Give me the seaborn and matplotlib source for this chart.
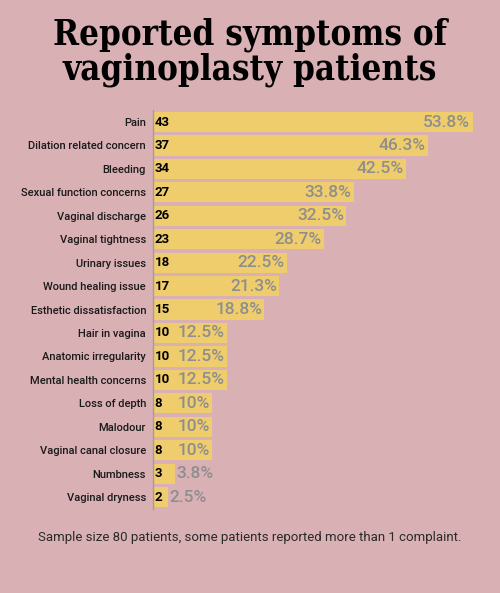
import matplotlib
matplotlib.use("Agg")
import matplotlib.pyplot as plt
import seaborn as sns
import pandas as pd

categories = ["Pain", "Dilation related concern", "Bleeding", "Sexual function concerns",
              "Vaginal discharge", "Vaginal tightness", "Urinary issues", "Wound healing issue",
              "Esthetic dissatisfaction", "Hair in vagina", "Anatomic irregularity",
              "Mental health concerns", "Loss of depth", "Malodour", "Vaginal canal closure",
              "Numbness", "Vaginal dryness"]
counts = [43, 37, 34, 27, 26, 23, 18, 17, 15, 10, 10, 10, 8, 8, 8, 3, 2]
pct_labels = ["53.8%", "46.3%", "42.5%", "33.8%", "32.5%", "28.7%", "22.5%", "21.3%", "18.8%",
              "12.5%", "12.5%", "12.5%", "10%", "10%", "10%", "3.8%", "2.5%"]

df = pd.DataFrame({"cat": categories, "count": counts})
bg = "#d9b1b4"
sns.set_theme(style="white")
plt.rcParams['font.family'] = ['Roboto', 'DejaVu Sans']

fig = plt.figure(figsize=(5, 5.93), dpi=100, facecolor=bg)
ax = fig.add_axes([0.306, 0.142, 0.694, 0.672])
ax.set_facecolor(bg)
sns.barplot(data=df, y="cat", x="count", color="#f0cd6c", saturation=1, width=0.86,
            linewidth=0, edgecolor="none", ax=ax)
ax.set_xlim(0, 46.7)
ax.set_ylim(len(categories) - 0.5, -0.5)
ax.set_xlabel(""); ax.set_ylabel("")
ax.set_xticks([])
for s in ["top", "right", "bottom"]:
    ax.spines[s].set_visible(False)
ax.spines["left"].set_color("#a89a9c")
ax.spines["left"].set_linewidth(1)
ax.tick_params(axis="y", length=0, pad=5)
for t in ax.get_yticklabels():
    t.set_fontsize(8); t.set_fontweight("medium"); t.set_color("#1a1a1a")

for i, (c, p) in enumerate(zip(counts, pct_labels)):
    ax.text(0.25, i, str(c), va="center", ha="left", fontsize=9.5, fontweight="bold", color="black")
    if c >= 5:
        ax.text(c - 0.3, i, p, va="center", ha="right", fontsize=12.5, fontweight="medium", color="#8e8e8e")
    else:
        ax.text(c + 0.2, i, p, va="center", ha="left", fontsize=12.5, fontweight="medium", color="#8e8e8e")

fig.text(0.5, 0.912, "Reported symptoms of\nvaginoplasty patients", ha="center", va="center",
         fontsize=25, fontweight="heavy", family=["DejaVu Serif"], fontstretch="condensed",
         linespacing=1.05, color="black")
fig.text(0.5, 0.094, "Sample size 80 patients, some patients reported more than 1 complaint.",
         ha="center", va="center", fontsize=9.5, color="#2a2a2a")
fig.savefig("out.png", dpi=100, facecolor=bg)
